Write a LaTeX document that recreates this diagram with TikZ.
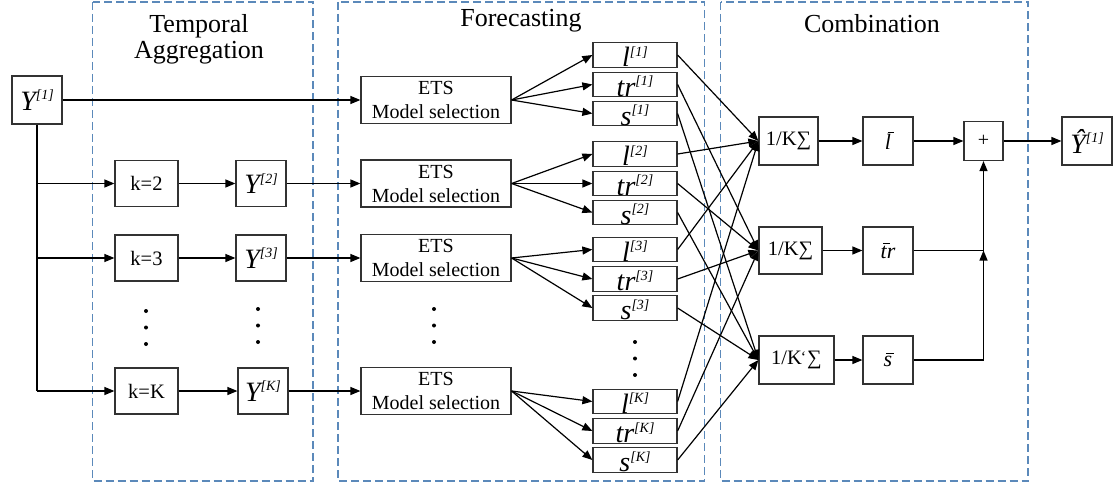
\documentclass[tikz,border=0pt]{standalone}
\usepackage{fontspec}
\setmainfont{Liberation Serif}
\usetikzlibrary{arrows.meta}
\definecolor{grpblue}{RGB}{91,137,186}
\definecolor{boxline}{RGB}{50,50,50}
\newcommand\fs[1]{\fontsize{#1}{#1}\selectfont}
% italic symbol with bracketed italic superscript
\newcommand\sym[2]{{\fs{28}\itshape #1}\raisebox{10.5pt}{\fs{14}\itshape [#2]}}
% glyph with a short bar above it
\newcommand\ovr[3]{\makebox[0pt][l]{\hspace{0.12em}\raisebox{#2}{\rule{#3}{0.055em}}}#1}
\tikzset{
  grpbox/.style={draw=grpblue, line width=1.2pt, dash pattern=on 8pt off 4pt},
  blk/.style={draw=boxline, line width=1.2pt, fill=white, inner sep=0pt, align=center},
  fbox/.style={blk, minimum width=84pt, minimum height=24.5pt},
  etsbox/.style={blk, minimum width=150pt, minimum height=47pt, font=\fontsize{20}{24}\selectfont},
  kbox/.style={blk, minimum width=63pt, minimum height=46pt, font=\fs{20.5}},
  ybox/.style={blk, minimum width=50pt, minimum height=46pt},
  sumbox/.style={blk, minimum height=48pt, font=\fs{20.5}},
  barbox/.style={blk, minimum width=50pt, minimum height=48pt, font=\fs{22}\itshape},
  title/.style={anchor=base, inner sep=0pt, font=\fs{26}},
  flbl/.style={anchor=base, inner sep=0pt},
  arr/.style={line width=1.2pt, -{Triangle[length=10pt,width=8pt]}},
  ln/.style={line width=1.2pt},
}
\begin{document}
\begin{tikzpicture}[x=1pt,y=-1pt]
\useasboundingbox (0,0) rectangle (1113,484);

% stage frames and headings
\draw[grpbox] (92.5,2) rectangle (313,481);
\draw[grpbox] (338,2) rectangle (704.5,481);
\draw[grpbox] (720.5,2) rectangle (1028,481);
\node[title] (tta) at (199,33) {Temporal};
\node[title] (ttb) at (199,59) {Aggregation};
\node[title] (tfc) at (521,27) {Forecasting};
\node[title] (tcb) at (872,33) {Combination};

% original series
\node[ybox, minimum height=48pt] (y1) at (37,100) {\sym{Y}{1}};

% temporal aggregation levels
\node[kbox] (k2) at (146.5,183.5) {k=2};
\node[kbox] (k3) at (146.5,258) {k=3};
\node[kbox] (kK) at (146.5,391) {k=K};
\node[ybox] (Y2) at (261,183.5) {\sym{Y}{2}};
\node[ybox] (Y3) at (261,258) {\sym{Y}{3}};
\node[ybox] (YK) at (263,391) {\sym{Y}{K}};
\foreach \yy in {311,327.5,344} \fill (146,\yy) circle (2pt);
\foreach \yy in {309,325.5,342} \fill (258,\yy) circle (2pt);

% trunk and branches
\coordinate (trunk) at (y1.south |- kK.west);
\draw[ln] (y1.south) -- (trunk);
\draw[arr] (y1.south |- k2.west) -- (k2.west);
\draw[arr] (y1.south |- k3.west) -- (k3.west);
\draw[arr] (trunk) -- (kK.west);
\draw[arr] (k2) -- (Y2);
\draw[arr] (k3) -- (Y3);
\draw[arr] (kK) -- (YK);

% combination stage
\node[sumbox, minimum width=59pt] (S1) at (788.5,141) {1/K∑};
\node[sumbox, minimum width=63pt, minimum height=47pt] (S2) at (790.5,250.5) {1/K∑};
\node[sumbox, minimum width=75pt] (S3) at (796.5,360)
  {1/K\kern-1pt\raisebox{2pt}{\fs{16}‘}\kern1pt∑};
\node[barbox] (lb) at (888,141) {\ovr{l}{0.74em}{0.3em}};
\node[barbox, minimum height=47pt] (tb) at (888,250.5) {\ovr{t}{0.64em}{0.3em}r};
\node[barbox] (sb) at (888,360) {\ovr{s}{0.58em}{0.36em}};
\node[blk, minimum width=39pt, minimum height=39pt, font=\fs{20}] (plus) at (983.5,141) {+};
\node[blk, minimum width=50pt, minimum height=48pt] (yhat) at (1087,141)
  {{\fs{28}\itshape Ŷ}\raisebox{10.5pt}{\fs{14}\itshape [1]}};

% forecasting stage
\foreach \i/\ey/\ly in {1/100/55, 2/183.5/154, 3/258/249.5, K/391/401.5} {
  \node[etsbox] (e\i) at (436,\ey) {ETS\\Model selection};
  \node[fbox] (l\i) at (635,\ly) {};
  \node[fbox] (t\i) at (635,\ly+29.5) {};
  \node[fbox] (s\i) at (635,\ly+58.5) {};
  \node[flbl] at ([yshift=1pt]l\i.south) {\sym{l}{\i}};
  \node[flbl] at ([yshift=1pt]t\i.south) {\sym{tr}{\i}};
  \node[flbl] at ([yshift=1pt]s\i.south) {\sym{s}{\i}};
  \draw[arr] (e\i.east) -- (l\i.west);
  \draw[arr] (e\i.east) -- (t\i.west);
  \draw[arr] (e\i.east) -- (s\i.west);
  \draw[arr] (l\i.east) -- (S1.west);
  \draw[arr] (t\i.east) -- (S2.west);
  \draw[arr] (s\i.east) -- (S3.west);
}
\foreach \yy in {309,325.5,342} \fill (434,\yy) circle (2pt);
\foreach \yy in {342,358.5,375} \fill (635,\yy) circle (2pt);

% inputs to the model selection boxes
\draw[arr] (y1.east) -- (e1.west);
\draw[arr] (Y2) -- (e2);
\draw[arr] (Y3) -- (e3);
\draw[arr] (YK) -- (eK);

% averaging and recombination
\draw[arr] (S1) -- (lb);
\draw[arr] (S2) -- (tb);
\draw[arr] (S3) -- (sb);
\draw[arr] (lb) -- (plus);
\draw[arr] (plus) -- (yhat);
\coordinate (jn) at (plus.south |- tb.east);
\draw[arr] (tb.east) -| (plus.south);
\draw[arr] (sb.east) -| (jn);
\end{tikzpicture}
\end{document}
